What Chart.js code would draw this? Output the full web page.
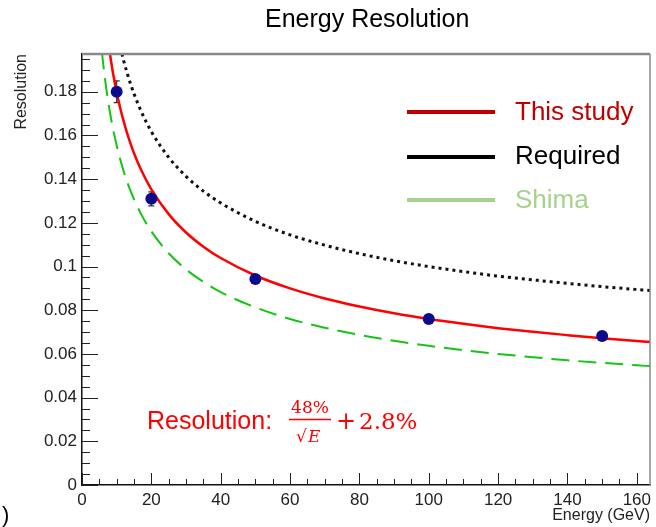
<!DOCTYPE html>
<html><head><meta charset="utf-8">
<script src="https://cdn.jsdelivr.net/npm/chart.js@4"></script>
<style>html,body{margin:0;padding:0;background:#fff;}canvas{display:block;}</style>
</head><body>
<canvas id="c" width="656" height="527"></canvas>
<script>
// ---- data ----
const energyGrid      = [5,6,7,8,9,10,11,12,13,14,15,17,20,25,30,35,40,50,60,70,80,90,100,110,120,130,140,150,160,164];
const thisStudyCurve  = [0.2427,0.224,0.209,0.198,0.188,0.1798,0.1727,0.1666,0.1611,0.1563,0.1519,0.1444,0.1353,0.124,0.1156,0.1091,0.1039,0.0959,0.090,0.0854,0.0817,0.0786,0.076,0.0738,0.0718,0.0701,0.0686,0.0672,0.0659,0.0655];
const requiredCurve   = [0.2736,0.2541,0.239,0.2268,0.2167,0.2081,0.2008,0.1943,0.1887,0.1836,0.1791,0.1713,0.1618,0.15,0.1413,0.1345,0.1291,0.1207,0.1145,0.1098,0.1059,0.1027,0.1,0.0977,0.0956,0.0939,0.0923,0.0908,0.0895,0.089];
const shimaCurve      = [0.2109,0.1944,0.1816,0.1712,0.1626,0.1554,0.1491,0.1437,0.1389,0.1346,0.1308,0.1241,0.1161,0.1061,0.0987,0.093,0.0883,0.0813,0.076,0.072,0.0687,0.066,0.0637,0.0617,0.06,0.0585,0.0571,0.0559,0.0548,0.0544];
const measuredEnergy     = [10,20,50,100,150];
const measuredResolution = [0.180,0.131,0.0943,0.076,0.0682];
const measuredError      = [0.005,0.0032,0.0018,0.0015,0.0015];
const legendLabels = ['This study','Required','Shima'];
const titleText = 'Energy Resolution';
const xTitle = 'Energy (GeV)';
const yTitle = 'Resolution';
const formulaLabel = 'Resolution:';
const formulaNumerator = '48%';
const formulaConstant = '2.8%';

const SANS = '"Liberation Sans", Arial, sans-serif';
const SERIF = '"DejaVu Serif", serif';

const rootStyle = {
  id: 'rootStyle',
  beforeDatasetsDraw(chart) {
    const ctx = chart.ctx, x = chart.scales.x, y = chart.scales.y;
    ctx.save();
    ctx.strokeStyle = '#333'; ctx.lineWidth = 1.2;
    measuredEnergy.forEach((e, i) => {
      const px = x.getPixelForValue(e);
      const y1 = y.getPixelForValue(measuredResolution[i] + measuredError[i]);
      const y2 = y.getPixelForValue(measuredResolution[i] - measuredError[i]);
      ctx.beginPath();
      ctx.moveTo(px, y1); ctx.lineTo(px, y2);
      ctx.moveTo(px - 3, y1); ctx.lineTo(px + 3, y1);
      ctx.moveTo(px - 3, y2); ctx.lineTo(px + 3, y2);
      ctx.stroke();
    });
    ctx.restore();
  },
  afterDraw(chart) {
    const ctx = chart.ctx, x = chart.scales.x, y = chart.scales.y;
    const {left, right, top, bottom} = chart.chartArea;
    ctx.save();
    // frame top/right
    ctx.strokeStyle = '#8a8a8a';
    ctx.lineWidth = 2.5;
    ctx.beginPath(); ctx.moveTo(left, top); ctx.lineTo(right, top); ctx.stroke();
    ctx.lineWidth = 1.5;
    ctx.beginPath(); ctx.moveTo(right, top); ctx.lineTo(right, bottom); ctx.stroke();
    // inward ticks
    ctx.strokeStyle = '#222'; ctx.lineWidth = 1;
    ctx.beginPath();
    for (let i = 0; i * 5 <= x.max; i++) {
      const px = Math.round(x.getPixelForValue(i * 5)) + 0.5;
      const len = (i % 4 === 0) ? 12 : 6;
      ctx.moveTo(px, bottom); ctx.lineTo(px, bottom - len);
    }
    for (let i = 0; i * 0.005 <= y.max; i++) {
      const py = Math.round(y.getPixelForValue(i * 0.005)) + 0.5;
      const len = (i % 4 === 0) ? 16 : 8;
      ctx.moveTo(left, py); ctx.lineTo(left + len, py);
    }
    ctx.stroke();
    // title
    ctx.fillStyle = '#000';
    ctx.font = '25px ' + SANS;
    ctx.textBaseline = 'alphabetic'; ctx.textAlign = 'left';
    ctx.fillText(titleText, 265, 27);
    // legend
    const legColors = ['#c00000', '#000000', '#a9d18e'];
    const lineY = [112, 157, 200];
    const textY = [120, 164, 208];
    ctx.lineWidth = 4; ctx.lineCap = 'butt';
    legendLabels.forEach((lab, i) => {
      ctx.strokeStyle = legColors[i];
      ctx.beginPath(); ctx.moveTo(407, lineY[i]); ctx.lineTo(495, lineY[i]); ctx.stroke();
      ctx.fillStyle = legColors[i];
      ctx.font = '26px ' + SANS;
      ctx.fillText(lab, 515, textY[i]);
    });
    // formula
    ctx.fillStyle = '#ff0000'; ctx.strokeStyle = '#ff0000';
    ctx.font = '25px ' + SANS;
    ctx.fillText(formulaLabel, 147, 429);
    ctx.textAlign = 'center';
    ctx.font = '17px ' + SERIF;
    ctx.fillText(formulaNumerator, 310, 413);
    ctx.lineWidth = 1.5;
    ctx.beginPath(); ctx.moveTo(289, 419.5); ctx.lineTo(331, 419.5); ctx.stroke();
    ctx.textAlign = 'left';
    ctx.font = '17px ' + SERIF;
    ctx.fillText('\u221A', 296, 442);
    ctx.font = 'italic 17px ' + SERIF;
    ctx.fillText('E', 308, 442);
    ctx.font = '24px ' + SERIF;
    ctx.fillText('+', 336, 429);
    ctx.font = '23px ' + SERIF;
    ctx.fillText(formulaConstant, 359, 429);
    // stray bracket at bottom-left
    ctx.fillStyle = '#000';
    ctx.font = '22px ' + SANS;
    ctx.fillText(')', 2, 522);
    ctx.restore();
  }
};

new Chart(document.getElementById('c'), {
  type: 'scatter',
  data: {
    datasets: [
      {label: 'Measured', data: measuredEnergy.map((e, i) => ({x: e, y: measuredResolution[i]})),
       backgroundColor: '#0b0b8c', pointRadius: 6, pointHoverRadius: 6, pointBorderWidth: 0, borderWidth: 0},
      {label: legendLabels[0], data: energyGrid.map((e, i) => ({x: e, y: thisStudyCurve[i]})),
       showLine: true, borderColor: '#ff0000', borderWidth: 2.5, pointRadius: 0, cubicInterpolationMode: 'monotone'},
      {label: legendLabels[1], data: energyGrid.map((e, i) => ({x: e, y: requiredCurve[i]})),
       showLine: true, borderColor: '#111111', borderWidth: 3, borderDash: [3, 4], pointRadius: 0, cubicInterpolationMode: 'monotone'},
      {label: legendLabels[2], data: energyGrid.map((e, i) => ({x: e, y: shimaCurve[i]})),
       showLine: true, borderColor: '#16c416', borderWidth: 2, borderDash: [18, 9], pointRadius: 0, cubicInterpolationMode: 'monotone'}
    ]
  },
  options: {
    responsive: false, animation: false, devicePixelRatio: 1,
    layout: {padding: {top: 54, right: 1, bottom: 0, left: 0}},
    plugins: {legend: {display: false}, tooltip: {enabled: false}, title: {display: false}},
    scales: {
      x: {
        type: 'linear', min: 0, max: 163.8,
        afterFit(s) { s.height = 42; s.paddingLeft = 0; s.paddingRight = 0; },
        grid: {display: false, drawTicks: false},
        border: {display: true, color: '#111', width: 1.5},
        ticks: {stepSize: 20, includeBounds: false, autoSkip: false, maxRotation: 0, padding: 5, color: '#222',
                font: {family: SANS, size: 17}},
        title: {display: true, text: xTitle, align: 'end', color: '#222', font: {family: SANS, size: 16}, padding: {top: 0, bottom: 2}}
      },
      y: {
        type: 'linear', min: 0, max: 0.1973,
        afterFit(s) { s.width = 82; s.paddingTop = 0; s.paddingBottom = 0; },
        grid: {display: false, drawTicks: false},
        border: {display: true, color: '#111', width: 1.5},
        ticks: {stepSize: 0.02, includeBounds: false, autoSkip: false, padding: 5, color: '#222',
                font: {family: SANS, size: 17}, callback: v => String(+(+v).toFixed(3))},
        title: {display: true, text: yTitle, align: 'end', color: '#222', font: {family: SANS, size: 16}, padding: {top: 12, bottom: 0}}
      }
    }
  },
  plugins: [rootStyle]
});
</script>
</body></html>
